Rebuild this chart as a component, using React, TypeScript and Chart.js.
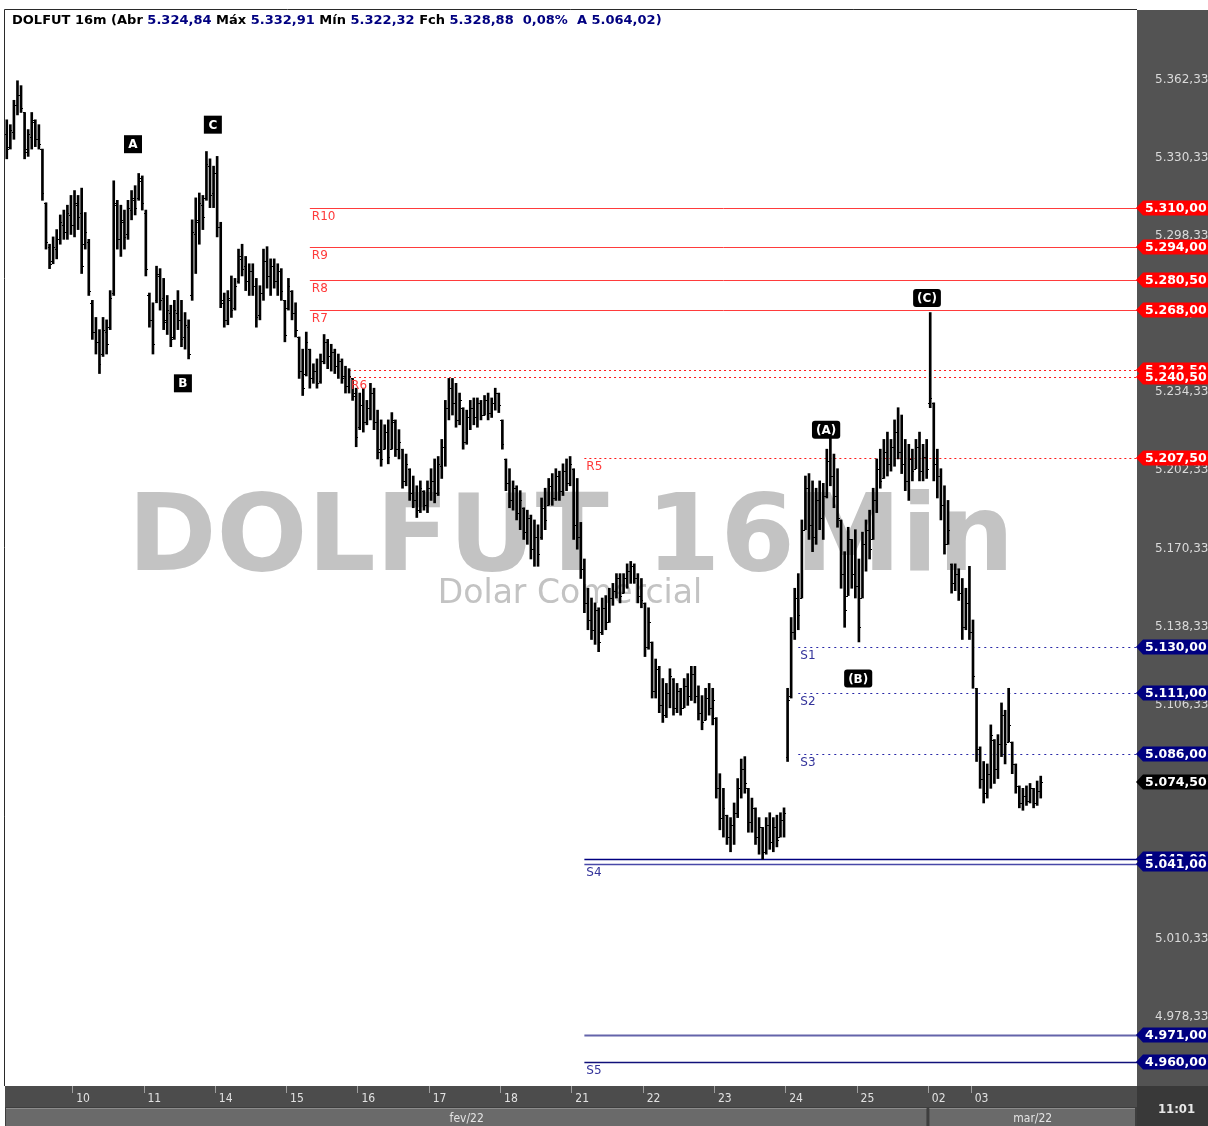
import React, { useEffect, useRef } from 'react';
import { Chart, registerables } from 'chart.js';

Chart.register(...registerables);

// ---------- DATA (16-minute bars, DOLFUT) ----------
const OPEN = [5340,5335,5341,5352,5356,5349,5334,5339,5345,5338,5334,5312,5294,5288,5293,5297,5303,5300,5307,5303,
5311,5308,5295,5296,5271,5259,5255,5250,5259,5261,5275,5311,5297,5304,5299,5309,5313,5314,5321,5308,
5274,5264,5272,5282,5273,5264,5267,5257,5267,5264,5257,5261,5274,5299,5304,5311,5314,5327,5316,5324,
5302,5271,5264,5272,5269,5280,5289,5286,5280,5284,5278,5266,5275,5288,5282,5286,5280,5284,5272,5269,
5276,5267,5257,5243,5242,5252,5240,5243,5239,5247,5255,5249,5251,5245,5247,5241,5237,5240,5234,5220,
5229,5222,5228,5234,5222,5211,5211,5218,5211,5222,5211,5211,5198,5203,5193,5190,5186,5194,5188,5195,
5198,5193,5204,5212,5228,5236,5230,5223,5228,5214,5224,5228,5224,5230,5225,5231,5226,5230,5234,5223,
5207,5197,5190,5195,5185,5187,5177,5183,5170,5175,5175,5187,5188,5196,5191,5200,5194,5202,5197,5203,
5180,5175,5162,5148,5141,5137,5145,5136,5146,5140,5150,5153,5158,5152,5158,5161,5163,5158,5151,5148,
5130,5132,5112,5121,5106,5102,5111,5117,5105,5112,5105,5114,5110,5119,5110,5103,5100,5109,5105,5101,
5072,5060,5061,5052,5057,5062,5072,5080,5072,5058,5064,5052,5056,5046,5057,5050,5056,5052,5059,5085,
5110,5136,5150,5150,5178,5195,5180,5175,5190,5183,5192,5206,5200,5192,5182,5160,5151,5174,5160,5155,
5150,5172,5178,5174,5190,5203,5199,5210,5205,5212,5218,5210,5205,5198,5207,5203,5212,5202,5208,5230,
5230,5205,5200,5188,5172,5164,5156,5160,5152,5138,5148,5136,5113,5088,5076,5070,5078,5092,5080,5090,
5102,5091,5091,5082,5073,5066,5069,5067,5072,5066,5071];
const HIGH = [5346,5344,5354,5362,5360,5349,5342,5349,5346,5344,5334,5312,5295,5298,5301,5307,5309,5311,5315,5317,
5315,5318,5308,5297,5272,5265,5260,5265,5264,5276,5321,5313,5311,5309,5313,5317,5319,5324,5323,5309,
5275,5271,5286,5285,5281,5274,5270,5272,5276,5272,5267,5264,5305,5314,5316,5315,5333,5330,5327,5331,
5304,5275,5276,5282,5281,5293,5295,5290,5287,5287,5281,5278,5293,5294,5289,5289,5287,5285,5272,5281,
5276,5271,5257,5252,5259,5252,5246,5248,5250,5258,5256,5254,5252,5250,5248,5245,5244,5240,5236,5234,
5236,5231,5238,5236,5227,5223,5221,5223,5226,5223,5219,5211,5209,5203,5200,5196,5198,5194,5198,5203,
5207,5208,5215,5231,5240,5240,5238,5234,5228,5227,5231,5232,5232,5231,5233,5234,5232,5236,5234,5223,
5207,5203,5198,5196,5194,5187,5186,5184,5182,5180,5191,5195,5199,5201,5203,5202,5205,5207,5208,5203,
5199,5181,5166,5154,5150,5148,5146,5150,5151,5154,5156,5160,5160,5160,5164,5165,5164,5160,5158,5148,
5146,5132,5125,5122,5117,5115,5121,5117,5115,5113,5117,5119,5122,5122,5114,5110,5113,5115,5113,5101,
5078,5072,5061,5060,5066,5076,5084,5085,5072,5068,5064,5060,5056,5060,5062,5060,5061,5062,5064,5113,
5142,5154,5160,5182,5200,5201,5198,5195,5198,5197,5211,5216,5209,5203,5182,5169,5179,5174,5178,5166,
5177,5182,5186,5195,5207,5211,5215,5218,5215,5223,5228,5225,5215,5213,5211,5215,5218,5213,5215,5267,
5230,5211,5203,5196,5190,5164,5164,5162,5158,5154,5163,5141,5113,5089,5083,5082,5098,5092,5094,5107,
5104,5113,5091,5082,5073,5072,5073,5074,5072,5075,5077];
const LOW = [5330,5334,5338,5348,5349,5330,5331,5334,5335,5334,5313,5293,5285,5287,5289,5295,5297,5297,5299,5298,
5301,5283,5293,5274,5256,5250,5242,5249,5250,5260,5274,5293,5290,5293,5297,5305,5307,5313,5309,5282,
5261,5250,5271,5268,5260,5258,5253,5256,5260,5253,5252,5248,5272,5283,5295,5301,5313,5310,5310,5298,
5269,5261,5262,5265,5268,5279,5282,5276,5274,5274,5261,5264,5272,5277,5274,5277,5274,5272,5255,5268,
5264,5257,5240,5233,5241,5236,5238,5236,5238,5246,5244,5243,5242,5240,5238,5234,5234,5231,5212,5219,
5218,5221,5223,5219,5207,5204,5211,5205,5211,5208,5207,5195,5196,5190,5187,5183,5185,5186,5185,5190,
5189,5192,5199,5204,5223,5225,5220,5221,5211,5213,5219,5221,5220,5223,5225,5223,5224,5227,5226,5211,
5194,5187,5186,5182,5178,5174,5172,5166,5163,5163,5174,5178,5188,5188,5190,5190,5192,5194,5196,5174,
5170,5158,5144,5137,5133,5131,5128,5135,5137,5140,5147,5150,5148,5152,5154,5156,5156,5148,5146,5126,
5129,5109,5109,5103,5099,5101,5105,5102,5103,5102,5105,5106,5108,5107,5100,5096,5100,5102,5098,5068,
5055,5052,5049,5046,5049,5060,5068,5070,5054,5054,5049,5045,5043,5045,5047,5046,5048,5052,5052,5083,
5109,5133,5137,5150,5178,5174,5169,5172,5178,5174,5191,5196,5187,5179,5154,5138,5151,5154,5150,5132,
5150,5161,5166,5174,5185,5195,5199,5200,5202,5204,5207,5201,5194,5190,5198,5203,5198,5198,5199,5228,
5198,5191,5182,5168,5172,5152,5153,5149,5133,5137,5133,5113,5083,5072,5066,5068,5072,5074,5076,5085,
5082,5091,5078,5070,5064,5063,5065,5066,5064,5065,5068];
const CLOSE = [5334,5342,5352,5356,5351,5333,5340,5346,5338,5336,5316,5296,5287,5294,5297,5304,5300,5308,5303,5312,
5306,5286,5300,5276,5259,5255,5246,5260,5254,5273,5312,5297,5305,5298,5310,5314,5310,5322,5312,5285,
5264,5254,5283,5272,5263,5268,5256,5268,5264,5256,5262,5250,5300,5305,5312,5306,5328,5315,5324,5302,
5272,5264,5273,5268,5278,5290,5285,5280,5284,5278,5265,5275,5288,5282,5286,5280,5284,5276,5258,5278,
5267,5260,5243,5236,5255,5240,5243,5238,5247,5255,5249,5251,5245,5247,5240,5237,5241,5233,5216,5229,
5222,5228,5234,5222,5210,5207,5218,5208,5223,5211,5214,5198,5205,5193,5190,5186,5195,5188,5195,5198,
5193,5205,5212,5228,5236,5230,5223,5231,5214,5224,5228,5224,5230,5225,5231,5226,5230,5234,5229,5213,
5197,5190,5195,5185,5190,5177,5183,5170,5175,5168,5187,5182,5196,5191,5200,5194,5202,5197,5205,5180,
5175,5162,5148,5141,5137,5145,5132,5146,5140,5150,5153,5158,5151,5158,5161,5163,5158,5151,5149,5130,
5140,5112,5121,5106,5102,5111,5118,5105,5112,5105,5114,5110,5119,5110,5103,5099,5109,5105,5108,5072,
5060,5064,5052,5057,5062,5072,5080,5074,5058,5064,5052,5056,5046,5057,5050,5056,5051,5059,5062,5108,
5136,5150,5143,5178,5195,5180,5175,5190,5183,5192,5206,5200,5192,5183,5160,5145,5174,5160,5155,5138,
5172,5178,5170,5190,5203,5198,5210,5205,5212,5218,5210,5205,5198,5207,5202,5212,5202,5208,5203,5232,
5205,5200,5188,5172,5178,5156,5160,5152,5138,5148,5136,5118,5088,5076,5070,5078,5094,5080,5090,5102,
5090,5098,5082,5073,5066,5069,5067,5072,5066,5071,5074.5];

const DAY_LABELS = ['10', '11', '14', '15', '16', '17', '18', '21', '22', '23', '24', '25', '02', '03'];
const DAY_START = [19, 39, 59, 79, 99, 119, 139, 159, 179, 199, 219, 239, 259, 271];
const MONTH_LABELS = ['fev/22', 'mar/22'];
const MONTH_START = [-0.5, 258.5];
const Y_TICKS = [5362.33, 5330.33, 5298.33, 5266.33, 5234.33, 5202.33, 5170.33, 5138.33, 5106.33, 5074.33, 5042.33, 5010.33, 4978.33];

const LEVEL_VALUES = [5310, 5294, 5280.5, 5268, 5243.5, 5240.5, 5207.5, 5130, 5111, 5086, 5043, 5041, 4971, 4960];
const LEVEL_NAMES = ['R10', 'R9', 'R8', 'R7', '', 'R6', 'R5', 'S1', 'S2', 'S3', '', 'S4', '', 'S5'];
const LEVEL_SIDE = ['R', 'R', 'R', 'R', 'R', 'R', 'R', 'S', 'S', 'S', 'S', 'S', 'S', 'S'];
const LEVEL_FROM = [85, 85, 85, 85, 96, 96, 162, 222, 222, 222, 162, 162, 162, 162];

const WAVE_TEXT = ['A', 'B', 'C', '(A)', '(B)', '(C)'];
const WAVE_X = [35.4, 49.4, 57.8, 229.8, 238.8, 258.1];
const WAVE_Y = [5336, 5238, 5344, 5219, 5117, 5273];

const TITLE_PARTS = ['DOLFUT 16m (Abr ', '5.324,84', ' Máx ', '5.332,91', ' Mín ', '5.322,32', ' Fch ', '5.328,88', '  0,08%  A 5.064,02)'];
const WATERMARK = 'DOLFUT 16Min';
const WATERMARK_SUB = 'Dolar Comercial';
const CLOCK = '11:01';

// ---------- STYLE ----------
const LEVEL_LOOK = [
  { c: '#ff3b3b', w: 1, d: [] as number[] },
  { c: '#ff3b3b', w: 1, d: [] as number[] },
  { c: '#ff3b3b', w: 1, d: [] as number[] },
  { c: '#ff3b3b', w: 1, d: [] as number[] },
  { c: '#ff1a1a', w: 1, d: [2, 3] },
  { c: '#ff1a1a', w: 1, d: [2, 3] },
  { c: '#ff1a1a', w: 1, d: [2, 3] },
  { c: '#2828a8', w: 1, d: [2, 4] },
  { c: '#2828a8', w: 1, d: [2, 4] },
  { c: '#2828a8', w: 1, d: [2, 4] },
  { c: '#000080', w: 1.5, d: [] as number[] },
  { c: '#4848a8', w: 1.5, d: [] as number[] },
  { c: '#6464aa', w: 2, d: [] as number[] },
  { c: '#10107a', w: 1.5, d: [] as number[] },
];

function fmt(v: number) {
  const [i, d] = v.toFixed(2).split('.');
  return i.replace(/\B(?=(\d{3})+(?!\d))/g, '.') + ',' + d;
}

const panelPlugin = {
  id: 'panels',
  beforeDraw(chart: any) {
    const { ctx, width, height } = chart;
    const { left, top, right, bottom } = chart.chartArea;
    const xs = chart.scales.x;
    ctx.save();
    ctx.fillStyle = '#ffffff';
    ctx.fillRect(0, 0, width, height);
    ctx.fillStyle = '#535353';
    ctx.fillRect(right, top, width - right, bottom - top);
    ctx.fillStyle = '#4c4c4c';
    ctx.fillRect(left, bottom, right - left, height - bottom);
    ctx.fillStyle = '#3e3e3e';
    ctx.fillRect(left, bottom + 21, right - left, height - bottom - 21);
    for (let k = 0; k < MONTH_LABELS.length; k++) {
      const x0 = xs.getPixelForValue(MONTH_START[k]);
      const x1 = k + 1 < MONTH_LABELS.length ? xs.getPixelForValue(MONTH_START[k + 1]) : right;
      ctx.fillStyle = '#6a6a6a';
      ctx.fillRect(x0 + 1, bottom + 22, x1 - x0 - 3, height - bottom - 22);
      ctx.fillStyle = '#8c8c8c';
      ctx.fillRect(x0 + 1, bottom + 22, x1 - x0 - 3, 1);
      ctx.fillStyle = '#e4e4e4';
      ctx.font = '12px "DejaVu Sans Condensed", "DejaVu Sans"';
      ctx.textAlign = 'center';
      ctx.textBaseline = 'middle';
      ctx.fillText(MONTH_LABELS[k], (x0 + x1) / 2, bottom + 33);
    }
    ctx.fillStyle = '#393939';
    ctx.fillRect(right, bottom, width - right, height - bottom);
    ctx.fillStyle = '#e8e8e8';
    ctx.font = 'bold 13px "DejaVu Sans Condensed", "DejaVu Sans"';
    ctx.textAlign = 'center';
    ctx.textBaseline = 'middle';
    ctx.fillText(CLOCK, (right + width) / 2 + 4, bottom + 24);
    ctx.strokeStyle = '#2a2a2a';
    ctx.lineWidth = 1;
    ctx.beginPath();
    ctx.moveTo(left - 0.5, bottom);
    ctx.lineTo(left - 0.5, top - 0.5);
    ctx.lineTo(right, top - 0.5);
    ctx.stroke();
    ctx.restore();
  },
};

const underPlugin = {
  id: 'under',
  beforeDatasetsDraw(chart: any) {
    const { ctx } = chart;
    const { left, top, right, bottom } = chart.chartArea;
    const xs = chart.scales.x;
    const ys = chart.scales.y;
    ctx.save();
    ctx.beginPath();
    ctx.rect(left, top, right - left, bottom - top);
    ctx.clip();
    ctx.fillStyle = '#c3c3c3';
    ctx.textAlign = 'center';
    ctx.textBaseline = 'alphabetic';
    ctx.font = 'bold 107px "DejaVu Sans"';
    ctx.fillText(WATERMARK, 571, 570);
    ctx.font = '33px "DejaVu Sans"';
    ctx.fillText(WATERMARK_SUB, 570, 603);
    for (let i = 0; i < LEVEL_VALUES.length; i++) {
      const look = LEVEL_LOOK[i];
      const y = Math.round(ys.getPixelForValue(LEVEL_VALUES[i])) + 0.5;
      const x0 = xs.getPixelForValue(LEVEL_FROM[i]);
      ctx.strokeStyle = look.c;
      ctx.lineWidth = look.w;
      ctx.setLineDash(look.d);
      ctx.beginPath();
      ctx.moveTo(x0, y);
      ctx.lineTo(right, y);
      ctx.stroke();
    }
    ctx.setLineDash([]);
    ctx.restore();
  },
};

const overPlugin = {
  id: 'over',
  afterDatasetsDraw(chart: any) {
    const { ctx } = chart;
    const { left, top, right, bottom } = chart.chartArea;
    const xs = chart.scales.x;
    const ys = chart.scales.y;
    ctx.save();
    ctx.beginPath();
    ctx.rect(left, top, right - left, bottom - top);
    ctx.clip();
    ctx.strokeStyle = '#000';
    ctx.lineWidth = 1;
    ctx.beginPath();
    for (let i = 0; i < OPEN.length; i++) {
      const x = Math.round(xs.getPixelForValue(i));
      const yo = Math.round(ys.getPixelForValue(OPEN[i])) + 0.5;
      const yc = Math.round(ys.getPixelForValue(CLOSE[i])) + 0.5;
      ctx.moveTo(x - 2, yo);
      ctx.lineTo(x, yo);
      ctx.moveTo(x, yc);
      ctx.lineTo(x + 2, yc);
    }
    ctx.stroke();
    ctx.font = '12px "DejaVu Sans"';
    ctx.textAlign = 'left';
    ctx.textBaseline = 'top';
    for (let i = 0; i < LEVEL_VALUES.length; i++) {
      if (!LEVEL_NAMES[i]) continue;
      const y = ys.getPixelForValue(LEVEL_VALUES[i]);
      const x0 = xs.getPixelForValue(LEVEL_FROM[i]);
      ctx.fillStyle = LEVEL_SIDE[i] === 'R' ? '#ff3a3a' : '#33339a';
      ctx.fillText(LEVEL_NAMES[i], x0 + 2, y + 3);
    }
    ctx.font = 'bold 12px "DejaVu Sans"';
    ctx.textAlign = 'center';
    ctx.textBaseline = 'middle';
    for (let k = 0; k < WAVE_TEXT.length; k++) {
      const cx = xs.getPixelForValue(WAVE_X[k]);
      const cy = ys.getPixelForValue(WAVE_Y[k]);
      const tw = ctx.measureText(WAVE_TEXT[k]).width;
      const w = WAVE_TEXT[k].length > 1 ? tw + 8 : 18;
      const h = 18;
      ctx.fillStyle = '#000';
      ctx.beginPath();
      if (ctx.roundRect) ctx.roundRect(cx - w / 2, cy - h / 2, w, h, WAVE_TEXT[k].length > 1 ? 3 : 0);
      else ctx.rect(cx - w / 2, cy - h / 2, w, h);
      ctx.fill();
      ctx.fillStyle = '#ffffff';
      ctx.fillText(WAVE_TEXT[k], cx, cy + 1);
    }
    ctx.restore();
  },
  afterDraw(chart: any) {
    const { ctx, width } = chart;
    const { left, right } = chart.chartArea;
    const ys = chart.scales.y;
    ctx.save();
    ctx.font = 'bold 13px "DejaVu Sans"';
    ctx.textAlign = 'left';
    ctx.textBaseline = 'middle';
    let tx = left + 7;
    for (let k = 0; k < TITLE_PARTS.length; k++) {
      const navy = k % 2 === 1 || k === TITLE_PARTS.length - 1;
      ctx.fillStyle = navy ? '#000080' : '#000000';
      ctx.fillText(TITLE_PARTS[k], tx, 21);
      tx += ctx.measureText(TITLE_PARTS[k]).width;
    }
    const tags: { v: number; c: string }[] = LEVEL_VALUES.map((v, i) => ({ v, c: LEVEL_SIDE[i] === 'R' ? '#ff0000' : '#000080' }));
    tags.push({ v: CLOSE[CLOSE.length - 1], c: '#000000' });
    ctx.beginPath();
    ctx.rect(right - 2, 0, width - right + 2, chart.height);
    ctx.clip();
    ctx.font = 'bold 12.5px "DejaVu Sans"';
    for (const t of tags) {
      const y = Math.round(ys.getPixelForValue(t.v));
      const h = 7.5;
      ctx.fillStyle = t.c;
      ctx.beginPath();
      ctx.moveTo(right - 1, y);
      ctx.lineTo(right + 6, y - h);
      ctx.lineTo(width, y - h);
      ctx.lineTo(width, y + h);
      ctx.lineTo(right + 6, y + h);
      ctx.closePath();
      ctx.fill();
      ctx.fillStyle = '#ffffff';
      ctx.textAlign = 'left';
      ctx.textBaseline = 'middle';
      ctx.fillText(fmt(t.v), right + 8, y + 1);
    }
    ctx.restore();
  },
};

export default function App() {
  const ref = useRef<HTMLCanvasElement>(null);
  useEffect(() => {
    document.body.style.margin = '0';
    const data = HIGH.map((h, i) => ({ x: i, y: [LOW[i], h] }));
    const chart = new Chart(ref.current as HTMLCanvasElement, {
      type: 'bar',
      data: {
        datasets: [
          {
            data: data as any,
            backgroundColor: '#000000',
            borderWidth: 0,
            barThickness: 2,
            grouped: false,
          } as any,
        ],
      },
      options: {
        responsive: false,
        animation: false,
        events: [],
        layout: { padding: { left: 5, top: 10, right: 0, bottom: 0 } },
        plugins: { legend: { display: false }, tooltip: { enabled: false }, title: { display: false } },
        scales: {
          x: {
            type: 'linear',
            min: -0.5,
            max: 317,
            offset: false,
            border: { display: false },
            grid: { drawOnChartArea: false, drawTicks: true, tickLength: 7, color: '#a0a0a0', offset: false },
            afterBuildTicks: (scale: any) => {
              scale.ticks = DAY_START.map((v) => ({ value: v - 0.5 }));
            },
            afterFit: (scale: any) => {
              scale.height = 40;
              scale.paddingLeft = 0;
              scale.paddingRight = 0;
              scale.paddingTop = 0;
              scale.paddingBottom = 0;
            },
            ticks: {
              autoSkip: false,
              maxRotation: 0,
              minRotation: 0,
              align: 'start',
              padding: -1,
              color: '#e2e2e2',
              font: { family: '"DejaVu Sans Condensed", "DejaVu Sans"', size: 12 },
              callback: (_v: any, i: number) => ' ' + DAY_LABELS[i],
            },
          },
          y: {
            type: 'linear',
            position: 'right',
            min: 4950,
            max: 5391,
            border: { display: false },
            grid: { display: false, drawTicks: false },
            afterBuildTicks: (scale: any) => {
              scale.ticks = Y_TICKS.map((v) => ({ value: v }));
            },
            afterFit: (scale: any) => {
              scale.width = 71;
              scale.paddingLeft = 0;
              scale.paddingRight = 0;
              scale.paddingTop = 0;
              scale.paddingBottom = 0;
            },
            ticks: {
              padding: 18,
              color: '#dadada',
              font: { family: '"DejaVu Sans"', size: 12 },
              callback: (v: any) => fmt(Number(v)),
            },
          },
        },
      },
      plugins: [panelPlugin, underPlugin, overPlugin],
    } as any);
    return () => chart.destroy();
  }, []);
  return (
    <div style={{ position: 'fixed', left: 0, top: 0, width: 1208, height: 1126, background: '#fff' }}>
      <canvas ref={ref} width={1208} height={1126} style={{ display: 'block', width: 1208, height: 1126 }} />
    </div>
  );
}
